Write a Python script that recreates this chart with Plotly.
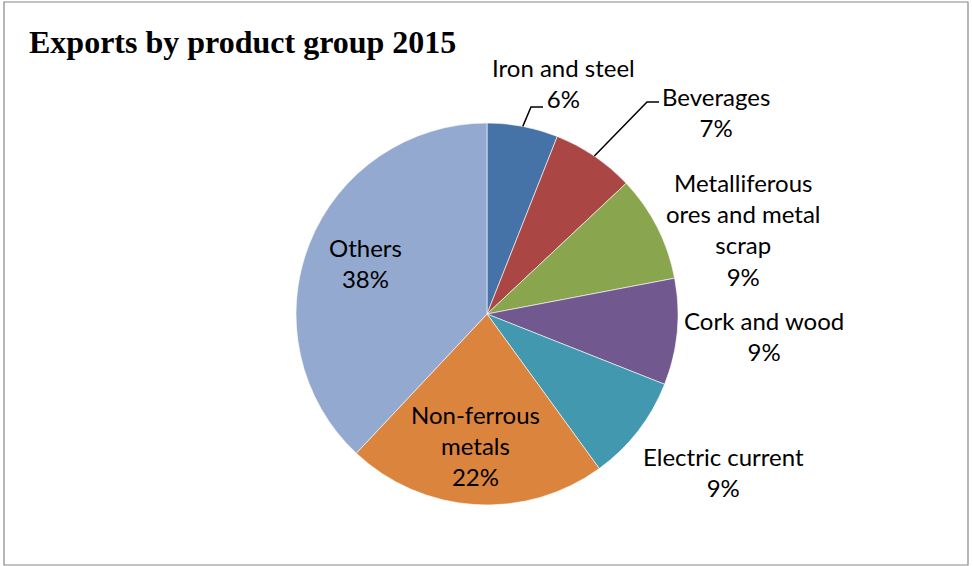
import math
import plotly.graph_objects as go

# Export shares by product group, 2015 (percent), clockwise from 12 o'clock
groups = [
    "Iron and steel",
    "Beverages",
    "Metalliferous ores and metal scrap",
    "Cork and wood",
    "Electric current",
    "Non-ferrous metals",
    "Others",
]
shares = [6, 7, 9, 9, 9, 22, 38]
colors = ["#4572A7", "#AA4643", "#89A54E", "#71588F", "#4198AF", "#DB843D", "#93A9CF"]

# Label text as it wraps on the chart
label_lines = [
    ["Iron and steel"],
    ["Beverages"],
    ["Metalliferous", "ores and metal", "scrap"],
    ["Cork and wood"],
    ["Electric current"],
    ["Non-ferrous", "metals"],
    ["Others"],
]

W, H = 973, 566
CX, CY, R = 487, 314, 191  # pie centre and radius in pixels

# Label block centres (pixels) and whether a leader line is drawn
label_pos = [(563, 83), (716, 112), (743, 229), (764, 336), (723, 472), (475, 445), (365, 263)]
leader = [True, True, False, False, False, False, False]


def px(x):
    return x / W


def py(y):
    return 1 - y / H


fig = go.Figure(
    go.Pie(
        labels=groups,
        values=shares,
        sort=False,
        direction="clockwise",
        rotation=0,
        marker=dict(colors=colors, line=dict(color="white", width=0.6)),
        textinfo="none",
        hoverinfo="label+percent",
        domain=dict(x=[px(CX - R), px(CX + R)], y=[py(CY + R), py(CY - R)]),
        showlegend=False,
    )
)

total = sum(shares)
annotations = []
shapes = []
cum = 0
for name_lines, v, (lx, ly), has_leader in zip(label_lines, shares, label_pos, leader):
    pct = round(100 * v / total)
    text = "<br>".join(name_lines + [f"{pct}%"])
    annotations.append(
        dict(
            x=px(lx), y=py(ly), xref="paper", yref="paper",
            text=text, showarrow=False, xanchor="center", yanchor="middle",
            align="center",
            font=dict(family="Lato, 'Noto Sans', sans-serif", size=24, color="#000000"),
        )
    )
    if has_leader:
        ang = math.radians((cum + v / 2) / total * 360)
        sx = CX + R * math.sin(ang)
        sy = CY - R * math.cos(ang)
        # leader runs up to the percentage line, then a short horizontal tick
        if name_lines == ["Iron and steel"]:
            ex, ey = lx - 32, ly + 24
        else:
            ex, ey = lx - 69, ly - 10
        path = f"M {px(sx)},{py(sy)} L {px(ex)},{py(ey)} L {px(ex + 12)},{py(ey)}"
        shapes.append(
            dict(type="path", xref="paper", yref="paper", path=path,
                 line=dict(color="#000000", width=1.5))
        )
    cum += v

# Chart frame
shapes.append(
    dict(type="rect", xref="paper", yref="paper",
         x0=px(4), x1=px(968), y0=py(565), y1=py(2),
         line=dict(color="#878787", width=1.2), fillcolor="rgba(0,0,0,0)")
)

annotations.append(
    dict(
        x=px(27), y=py(62), xref="paper", yref="paper",
        text="<b>Exports by product group 2015</b>", showarrow=False,
        xanchor="left", yanchor="bottom",
        font=dict(family="'Liberation Serif', 'Times New Roman', serif", size=32, color="#000000"),
    )
)

fig.update_layout(
    width=W, height=H,
    margin=dict(l=0, r=0, t=0, b=0),
    paper_bgcolor="white",
    plot_bgcolor="white",
    annotations=annotations,
    shapes=shapes,
)

fig.write_html("out.html")
